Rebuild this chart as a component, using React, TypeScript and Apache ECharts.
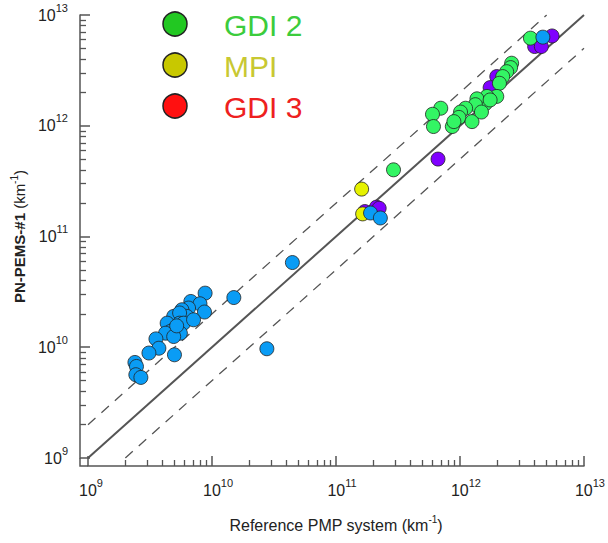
import React, { useEffect, useRef } from 'react';
import * as echarts from 'echarts';

const majorTicks = [1e9, 1e10, 1e11, 1e12, 1e13];
const minorMantissas = [2, 3, 4, 5, 6, 7, 8, 9];
const decades = [1e9, 1e10, 1e11, 1e12];

const blueX = [8.8e9, 1.5e10, 6.75e9, 8.0e9, 8.7e9, 6.47e9, 5.72e9, 6.27e9, 4.91e9, 5.48e9, 4.35e9, 5.48e9, 5.9e9, 4.91e9, 4.62e9, 5.56e9, 4.22e9, 4.91e9, 3.53e9, 3.73e9, 3.1e9, 4.98e9, 2.39e9, 2.46e9, 2.43e9, 2.67e9, 4.45e10, 2.77e10, 7.1e9, 5.19e9, 1.9e11, 2.28e11, 4.66e12];
const blueY = [3.08e10, 2.81e10, 2.59e10, 2.47e10, 2.08e10, 2.26e10, 2.18e10, 1.9e10, 1.9e10, 2.04e10, 1.65e10, 1.65e10, 1.65e10, 1.44e10, 1.39e10, 1.34e10, 1.34e10, 1.25e10, 1.19e10, 9.8e9, 8.87e9, 8.55e9, 7.29e9, 6.71e9, 5.65e9, 5.34e9, 5.82e10, 9.69e9, 1.77e10, 1.56e10, 1.63e11, 1.47e11, 6.31e12];

const greenX = [3.7e12, 2.61e12, 2.56e12, 2.38e12, 2.21e12, 2.08e12, 1.98e12, 1.65e12, 1.6e12, 1.37e12, 1.33e12, 1.11e12, 1.01e12, 9.8e11, 1.25e12, 8.67e11, 7.0e11, 6.0e11, 6.11e11, 8.93e11, 2.91e11, 1.49e12, 1.75e12];
const greenY = [6.18e12, 3.67e12, 3.35e12, 3.08e12, 2.78e12, 2.42e12, 1.84e12, 1.84e12, 1.58e12, 1.75e12, 1.55e12, 1.44e12, 1.33e12, 1.19e12, 1.09e12, 9.84e11, 1.44e12, 1.27e12, 9.84e11, 1.09e12, 4.0e11, 1.33e12, 1.71e12];

const purpleX = [1.71e11, 2.12e11, 2.23e11, 6.65e11, 1.98e12, 1.75e12, 4.0e12, 4.53e12, 5.53e12];
const purpleY = [1.68e11, 1.84e11, 1.8e11, 5.0e11, 2.78e12, 2.21e12, 5.19e12, 5.19e12, 6.47e12];

const yellowX = [1.61e11, 1.64e11];
const yellowY = [2.68e11, 1.6e11];

const oneToOne = [[1e9, 1e9], [1e13, 1e13]];
const upperBand = [[1e9, 2e9], [5e12, 1e13]];
const lowerBand = [[2e9, 1e9], [1e13, 5e12]];

const legendNames = ['GDI 2', 'MPI', 'GDI 3'];
const legendFill = ['#22c822', '#c8c800', '#ff1010'];
const legendText = ['#3ccc3c', '#c8c832', '#ee2020'];

const FONT = 'Liberation Sans, Arial, sans-serif';
const AX = '#555555';

function zip(xs: number[], ys: number[]) {
  return xs.map((x, i) => [x, ys[i]]);
}

export default function App() {
  const ref = useRef<HTMLDivElement>(null);
  useEffect(() => {
    if (!ref.current) return;
    const chart = echarts.init(ref.current, null, { renderer: 'svg' });
    const minorTicks: number[] = [];
    decades.forEach((d) => minorMantissas.forEach((m) => minorTicks.push(m * d)));

    const rich = {
      b1: { fontSize: 16, lineHeight: 26, fontFamily: FONT, color: '#222', padding: [0, 0, 0, 6] },
      b2: { fontSize: 16, lineHeight: 26, fontFamily: FONT, color: '#222', padding: [0, 0, 0, 12] },
      b: { fontSize: 16, lineHeight: 26, fontFamily: FONT, color: '#222' },
      s: { fontSize: 11, lineHeight: 12, fontFamily: FONT, color: '#222', verticalAlign: 'top' },
    };
    const xFmt = (v: number) => {
      const e = Math.round(Math.log10(v));
      const s = String(e);
      return `{${s.length > 1 ? 'b2' : 'b1'}|10}{s|${s}}`;
    };
    const yFmt = (v: number) => {
      const e = Math.round(Math.log10(v));
      return `{b|10}{s|${e}}`;
    };

    const baseLog = { type: 'log', logBase: 10, min: 1e9, max: 1e13, gridIndex: 0, splitLine: { show: false } };

    const scatterStyle = (color: string) => ({
      color,
      opacity: 1,
      borderColor: '#222',
      borderWidth: 0.8,
    });

    const option: any = {
      animation: false,
      backgroundColor: '#ffffff',
      grid: { left: 88, right: 18, top: 15, bottom: 85 },
      xAxis: [
        {
          ...baseLog,
          position: 'bottom',
          offset: 8,
          axisLine: { show: true, lineStyle: { color: AX, width: 1.5 } },
          axisTick: { show: true, inside: true, length: 10, customValues: majorTicks, lineStyle: { color: AX, width: 1.5 } },
          axisLabel: { show: true, customValues: majorTicks, formatter: xFmt, rich, margin: 11 },
          name: '{n|Reference PMP system (km}{s|-1}{n|)}',
          nameLocation: 'middle',
          nameGap: 48,
          nameTextStyle: {
            rich: {
              n: { fontSize: 16, lineHeight: 22, fontFamily: FONT, color: '#222' },
              s: { fontSize: 10, lineHeight: 10, fontFamily: FONT, color: '#222', verticalAlign: 'top' },
            },
          },
        },
        {
          ...baseLog,
          position: 'bottom',
          offset: 8,
          axisLine: { show: false },
          axisTick: { show: true, inside: true, length: 6, customValues: minorTicks, lineStyle: { color: AX, width: 1.3 } },
          axisLabel: { show: false },
        },
      ],
      yAxis: [
        {
          ...baseLog,
          position: 'left',
          offset: 8,
          axisLine: { show: true, lineStyle: { color: AX, width: 1.5 } },
          axisTick: { show: true, inside: true, length: 10, customValues: majorTicks, lineStyle: { color: AX, width: 1.5 } },
          axisLabel: { show: true, customValues: majorTicks, formatter: yFmt, rich, margin: 12 },
          name: '{bb|PN-PEMS-#1 }{n|(km}{s|-1}{n|)}',
          nameLocation: 'middle',
          nameRotate: 90,
          nameGap: 50,
          nameTextStyle: {
            rich: {
              bb: { fontSize: 15, lineHeight: 20, fontWeight: 'bold', fontFamily: FONT, color: '#222' },
              n: { fontSize: 15, lineHeight: 20, fontFamily: FONT, color: '#222' },
              s: { fontSize: 10, lineHeight: 10, fontFamily: FONT, color: '#222', verticalAlign: 'top' },
            },
          },
        },
        {
          ...baseLog,
          position: 'left',
          offset: 8,
          axisLine: { show: false },
          axisTick: { show: true, inside: true, length: 6, customValues: minorTicks, lineStyle: { color: AX, width: 1.3 } },
          axisLabel: { show: false },
        },
      ],
      series: [
        {
          type: 'line', data: oneToOne, symbol: 'none', silent: true, z: 1,
          lineStyle: { color: '#555', width: 2 },
        },
        {
          type: 'line', data: upperBand, symbol: 'none', silent: true, z: 1,
          lineStyle: { color: '#555', width: 1.3, type: [10, 8] },
        },
        {
          type: 'line', data: lowerBand, symbol: 'none', silent: true, z: 1,
          lineStyle: { color: '#555', width: 1.3, type: [10, 8] },
        },
        { type: 'scatter', name: 'purple', data: zip(purpleX, purpleY), symbolSize: 14, itemStyle: scatterStyle('#8000ff'), z: 3 },
        { type: 'scatter', name: 'green', data: zip(greenX, greenY), symbolSize: 14, itemStyle: scatterStyle('#33f564'), z: 4 },
        { type: 'scatter', name: 'yellow', data: zip(yellowX, yellowY), symbolSize: 14, itemStyle: scatterStyle('#e6f200'), z: 5 },
        { type: 'scatter', name: 'blue', data: zip(blueX, blueY), symbolSize: 14, itemStyle: scatterStyle('#0a9cf5'), z: 6 },
      ],
      graphic: [
        {
          type: 'polyline',
          shape: { points: [[80, 458], [80, 466], [88, 466]] },
          style: { stroke: AX, lineWidth: 1.5, fill: 'none' },
        },
        ...legendNames.flatMap((name, i) => [
          {
            type: 'circle',
            shape: { cx: 175, cy: 24 + i * 41, r: 12 },
            style: { fill: legendFill[i], stroke: '#222', lineWidth: 1.5 },
          },
          {
            type: 'text',
            x: 224,
            y: 25 + i * 41,
            style: {
              text: name,
              fill: legendText[i],
              fontSize: 30,
              fontFamily: FONT,
              verticalAlign: 'middle',
            },
          },
        ]),
      ],
    };
    chart.setOption(option);
    return () => chart.dispose();
  }, []);
  return <div ref={ref} style={{ position: 'fixed', left: 0, top: 0, width: 608, height: 543 }} />;
}
